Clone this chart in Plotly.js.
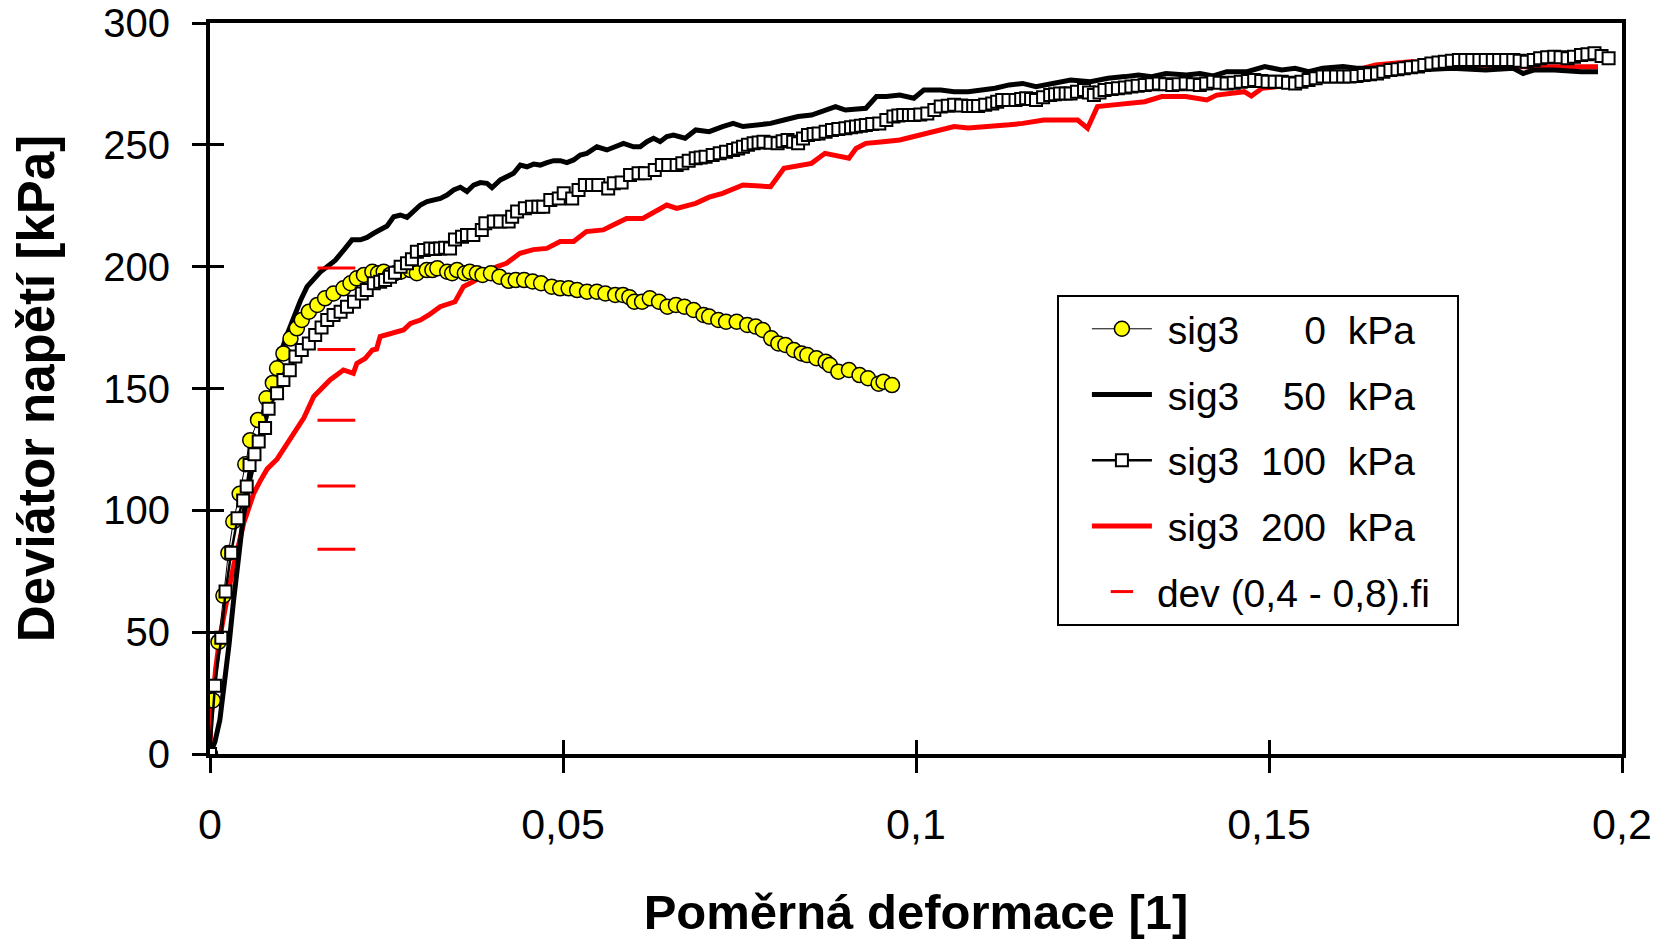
<!DOCTYPE html>
<html>
<head>
<meta charset="utf-8">
<script src="https://cdn.plot.ly/plotly-3.0.1.min.js"></script>
<style>html,body{margin:0;padding:0;background:#fff;}#chart{width:1669px;height:940px;}</style>
</head>
<body>
<div id="chart"></div>
<script>
// ---- data ----
var seriesNames = [
  "\u00a0sig3\u00a0\u00a0\u00a0\u00a0\u00a0\u00a00\u00a0\u00a0kPa",
  "\u00a0sig3\u00a0\u00a0\u00a0\u00a050\u00a0\u00a0kPa",
  "\u00a0sig3\u00a0\u00a0100\u00a0\u00a0kPa",
  "\u00a0sig3\u00a0\u00a0200\u00a0\u00a0kPa",
  "dev (0,4 - 0,8).fi\u00a0\u00a0"
];

var yellowX = [0,0.0004,0.0012,0.0019,0.0026,0.0033,0.0042,0.005,0.0057,0.0068,0.008,0.0089,0.0095,0.0104,0.0114,0.0123,0.013,0.014,0.0152,0.0163,0.0175,0.0189,0.0199,0.0208,0.0218,0.023,0.0238,0.0246,0.0255,0.0262,0.027,0.0284,0.0293,0.0307,0.0315,0.0322,0.0336,0.0343,0.035,0.0361,0.0368,0.0378,0.0386,0.0398,0.041,0.0423,0.0433,0.0445,0.0457,0.0469,0.0484,0.0496,0.0508,0.052,0.0534,0.0548,0.056,0.0574,0.0585,0.0594,0.0601,0.0612,0.0623,0.0636,0.0648,0.066,0.0672,0.0685,0.0699,0.0707,0.072,0.0731,0.0746,0.0761,0.0773,0.0783,0.0795,0.0805,0.0815,0.0827,0.0838,0.0846,0.0859,0.0872,0.0878,0.089,0.0905,0.092,0.0932,0.0947,0.0954,0.0966];
var yellowY = [0,22,46,65,82.5,95.4,106.8,118.9,128.8,137.1,146,152.3,158.3,164.4,170.5,174.7,178.1,181.5,184.3,187,189,191.1,193.2,195.2,196.6,197.9,197.3,197.9,196.6,197.3,197.9,198.6,197.3,198.6,198.6,199.3,197.9,197.3,198.6,197.3,197.9,197.3,196.6,197.3,195.9,194.2,194.5,194.5,193.9,193.2,191.8,191.1,191.1,190.4,189.7,189.7,189,188.4,188.4,187.5,185.6,185.6,187,185.6,183.6,184.3,183.6,182.2,180.2,179.5,178.1,177.4,177.4,176.1,175.4,174,170.6,168.5,167.9,165.8,164.4,163.7,162.4,161,159.6,156.9,157.6,155.5,154.2,152,152.8,151.4];

var blackX = [0,0.0007,0.0014,0.0021,0.0027,0.0033,0.0039,0.0047,0.0055,0.0065,0.0076,0.009,0.01,0.0109,0.0119,0.0128,0.01375,0.0147,0.01564,0.01659,0.01776,0.01894,0.01965,0.02012,0.0213,0.02225,0.02319,0.02413,0.02508,0.02602,0.02696,0.02791,0.02885,0.0298,0.03074,0.03168,0.03263,0.03357,0.03451,0.03546,0.0364,0.03734,0.03829,0.03923,0.03994,0.04112,0.04206,0.043,0.04395,0.04489,0.04584,0.04678,0.04772,0.04867,0.04961,0.05055,0.0515,0.05244,0.05338,0.0548,0.05622,0.05716,0.05857,0.05999,0.06093,0.06188,0.06282,0.06376,0.06471,0.06565,0.0673,0.0688,0.0707,0.0726,0.0741,0.0755,0.0775,0.0794,0.0813,0.0833,0.0852,0.0871,0.0886,0.09,0.0929,0.0944,0.0958,0.0977,0.0997,0.1011,0.1035,0.1054,0.1074,0.1093,0.1112,0.1132,0.1151,0.117,0.119,0.1219,0.1247,0.1272,0.1296,0.1315,0.1334,0.1354,0.1383,0.1402,0.1421,0.144,0.1469,0.1494,0.1518,0.1537,0.1556,0.1576,0.1605,0.1624,0.1662,0.1711,0.1759,0.1807,0.1846,0.186,0.1875,0.1904,0.1942,0.1966];
var blackY = [0,5,14,30,45,62,78,97,111,124,134,152,164.4,172,179.5,186,191.8,195.2,197.9,200,202.7,206.8,208.9,211,211,212,213.7,215.3,216.7,220.5,221.2,220.2,222.6,225.3,226.7,227.4,228,229.4,231.5,232.6,230.8,233.5,234.5,234.2,232.4,235.6,236.9,238.3,241.7,241,242.1,241.7,242.7,243.5,243.5,242.7,243.8,245.8,246.5,249.2,247.9,248.8,250.6,249.2,249.2,251.3,252.7,251.3,253.4,254,252.7,256.1,255.4,257.5,258.8,257.5,258.1,258.8,260.2,261.6,262.2,264.3,265.7,264.3,265,269.8,269.8,270.4,269.1,272.5,272.5,271.8,271.8,272.5,273.2,274.6,275.2,273.9,275.2,276.6,275.9,277.3,278,278.7,278,279.3,278.7,279.3,278.3,280,280,282.1,280.7,281.4,280,281.4,282.1,281.4,281.4,280.7,281.4,280.7,281.4,279.3,280.7,280.7,280,280];

var squareX = [0,0.0007,0.0016,0.0022,0.003,0.0039,0.0047,0.0052,0.0056,0.0063,0.0069,0.0078,0.0083,0.0095,0.0104,0.0113,0.0121,0.013,0.014,0.0149,0.0158,0.0166,0.0175,0.0185,0.0194,0.0204,0.0215,0.0222,0.0232,0.0241,0.0248,0.0255,0.0262,0.027,0.0279,0.0286,0.0293,0.0303,0.0312,0.0319,0.0326,0.0333,0.034,0.0347,0.0357,0.0364,0.0373,0.0385,0.039,0.0402,0.0411,0.0423,0.0428,0.0435,0.0446,0.0456,0.0465,0.0472,0.0482,0.0494,0.0501,0.0513,0.0522,0.0531,0.0541,0.055,0.0564,0.0572,0.0583,0.0595,0.0607,0.0616,0.063,0.064,0.0649,0.0661,0.0669,0.0678,0.0688,0.0695,0.0702,0.0712,0.0722,0.0731,0.0741,0.0748,0.0755,0.0762,0.077,0.0777,0.0784,0.0794,0.0804,0.0811,0.0818,0.0826,0.0833,0.084,0.0847,0.0855,0.0862,0.0872,0.0881,0.089,0.09,0.0908,0.0915,0.0922,0.0929,0.0938,0.0948,0.0958,0.0968,0.0975,0.0982,0.099,0.0997,0.1006,0.1016,0.1026,0.1035,0.1045,0.1054,0.1064,0.1074,0.1081,0.1088,0.1098,0.1108,0.1115,0.1122,0.1131,0.1141,0.1149,0.1156,0.1163,0.117,0.118,0.119,0.1197,0.1204,0.1212,0.1219,0.1228,0.1238,0.1245,0.1252,0.126,0.1267,0.1277,0.1286,0.1296,0.1305,0.1314,0.1324,0.1334,0.1344,0.1353,0.1363,0.1372,0.1382,0.1392,0.1402,0.1411,0.1421,0.143,0.144,0.145,0.146,0.147,0.1479,0.1489,0.1498,0.1508,0.1518,0.1527,0.1537,0.1546,0.1556,0.1566,0.1576,0.1585,0.1595,0.1605,0.1614,0.1624,0.1634,0.1643,0.1653,0.1662,0.1672,0.1682,0.1691,0.1701,0.1711,0.172,0.173,0.174,0.1749,0.1759,0.1769,0.1778,0.1788,0.1798,0.1807,0.1817,0.1826,0.1836,0.1846,0.1855,0.1865,0.1875,0.1884,0.1894,0.1904,0.1913,0.1923,0.1932,0.1942,0.1951,0.1961,0.1971,0.1981];
var squareY = [0,28,47.7,66.7,82.6,96.7,104,109.8,118.6,123,128.3,133.8,141.7,148,153.5,157.5,163.1,165.8,168.5,172,175,178.1,180.2,181.5,183.6,185.6,189,190.4,193.2,193.8,194.5,195.9,197.5,200,201.4,203,206.1,206.8,207.5,207.2,207.5,207.8,207.5,211.2,212.3,213,213,215,217.8,218.5,218.5,218.5,220.5,222.6,224,224.6,224.6,224.6,227.4,228,230.1,228,231.5,233.5,233.5,233.5,232.1,234.2,234.5,237.6,238.3,238.3,239.7,241.7,241.7,241.7,242.4,243.5,244.5,244.8,245.1,245.8,246.5,247.2,247.9,248.5,249.2,250,250.6,251,251.3,250.9,250.6,251.5,252,251.3,250.6,252.6,254,254.4,254.7,255.4,256.1,256.5,256.8,257.2,257.5,257.8,258.1,258.5,258.8,260.2,261.6,262,262.2,262.2,262.2,262.5,262.9,264.3,265.7,266,266.4,266.1,265.9,265.9,265.9,266.5,267,267.7,268.4,268.4,268.4,268.8,269.1,268.8,268.4,269.5,270.5,270.8,271.1,271.1,271.1,271.8,272.5,271.5,270.5,271.5,272.5,272.9,273.2,273.5,273.9,274.2,274.6,274.9,275.2,274.9,274.6,274.9,275.2,274.9,274.6,275.2,275.9,275.5,275.2,275.5,275.9,276.2,276.6,276.2,275.9,275.9,275.9,275.5,275.2,275.9,276.6,277.3,278,278,278,278,278,278.3,278.7,279,279.3,280,280.7,281,281.4,281.8,282.1,282.8,283.4,283.8,284.1,284.5,284.8,284.8,284.8,284.8,284.8,284.8,284.8,284.8,284.8,284.5,284.1,284.8,285.5,285.9,286.2,285.9,285.5,286.2,286.9,287.2,287.6,286.5,285.5];

var redX = [0,0.0001,0.0004,0.0008,0.0014,0.002,0.0027,0.0034,0.0041,0.0048,0.0055,0.0062,0.0071,0.0081,0.0095,0.0104,0.0114,0.0124,0.0133,0.0147,0.0156,0.017,0.0189,0.0203,0.0208,0.022,0.023,0.0236,0.0241,0.026,0.0274,0.0284,0.0298,0.031,0.0326,0.0347,0.0359,0.0373,0.0406,0.042,0.0439,0.0458,0.0477,0.0496,0.0515,0.0533,0.0557,0.0571,0.059,0.0613,0.0632,0.0647,0.0661,0.0688,0.0707,0.0726,0.0755,0.0794,0.0813,0.0838,0.0852,0.0871,0.0886,0.0905,0.0915,0.0929,0.095,0.0977,0.0997,0.1016,0.1035,0.1054,0.1074,0.1112,0.1132,0.1151,0.1181,0.1209,0.1229,0.1243,0.1257,0.128,0.1295,0.1324,0.1348,0.1382,0.1412,0.1426,0.1465,0.1475,0.149,0.1534,0.157,0.16,0.1625,0.1651,0.17,0.1749,0.1797,0.1841,0.19,0.1966];
var redY = [0,14,22,35,48,58,68,78,87,95,101,107,112,117,121,125,130.3,134,138,146.7,149.4,153.5,157.6,156.2,160.3,162.4,165.8,166.2,171.3,172.6,174,176.7,178.1,180.2,183.6,185.6,191.8,193.9,200,201.4,205.5,207,207.5,210.3,210.3,214.4,215.1,217.1,219.8,219.8,222.6,225.3,223.9,226,228.5,230.1,233.5,232.8,240.4,241.8,242.4,246.5,245.8,244.5,248.5,250.6,251.2,252,253.4,254.7,256,257.5,256.9,257.5,258.2,258.8,260.2,260.2,260.2,256.8,265.7,266.4,266.8,267.7,269.8,269.8,268.4,270.4,271.8,270,273.2,274.6,276.5,279,281,282.8,284.1,283.5,282.8,282.1,282,282];

var devX = [0.0179,0.0179,0.0179,0.0179,0.0179];
var devY = [199.5,166,137,110,84];

var xTickVals = [0,0.05,0.1,0.15,0.2];
var xTickText = ["0","0,05","0,1","0,15","0,2"];
var yTickVals = [0,50,100,150,200,250,300];
var yTickText = ["0","50","100","150","200","250","300"];

var xTitle = "Poměrná deformace [1]";
var yTitle = "Deviátor napětí [kPa]";

// ---- traces ----
var FONT = 'Arial, "Liberation Sans", sans-serif';

var traces = [
  {x: redX, y: redY, name: seriesNames[3], type:'scatter', mode:'lines',
   line:{color:'#ff0000', width:5}, legendgroup:'g4', legendrank:4},
  {x: blackX, y: blackY, name: seriesNames[1], type:'scatter', mode:'lines',
   line:{color:'#000000', width:5}, legendgroup:'g2', legendrank:2},
  {x: yellowX, y: yellowY, name: seriesNames[0], type:'scatter', mode:'lines+markers',
   line:{color:'#000000', width:1},
   marker:{symbol:'circle', size:15, color:'#ffff00', line:{color:'#000000', width:1.5}},
   legendgroup:'g1', legendrank:1},
  {x: squareX, y: squareY, name: seriesNames[2], type:'scatter', mode:'lines+markers',
   line:{color:'#000000', width:2.5},
   marker:{symbol:'square', size:12, color:'#ffffff', line:{color:'#000000', width:2}},
   legendgroup:'g3', legendrank:3},
  {x: devX, y: devY, name: seriesNames[4], type:'scatter', mode:'markers',
   marker:{symbol:'line-ew', size:27, color:'#ff0000', line:{color:'#ff0000', width:3}},
   legendgroup:'g5', legendrank:5},
  {x: [], y: [], xaxis:'x2', yaxis:'y2', type:'scatter', mode:'markers', showlegend:false, hoverinfo:'skip'}
];

var axisCommon = {
  showgrid:false, zeroline:false, showline:true, linecolor:'#000', linewidth:4,
  mirror:true, ticks:'outside', tickcolor:'#000', tickwidth:3, fixedrange:true
};

var layout = {
  width:1669, height:940,
  margin:{l:209.5, r:46.5, t:23.3, b:186, pad:0},
  paper_bgcolor:'#ffffff', plot_bgcolor:'#ffffff',
  font:{family:FONT, color:'#000'},
  showlegend:true, hovermode:false,
  xaxis: Object.assign({}, axisCommon, {
    range:[0,0.2], tickmode:'array', tickvals:xTickVals, ticktext:xTickText,
    ticklen:15, tickfont:{size:43, family:FONT}, ticklabelstandoff:14,
    title:{text:xTitle, font:{size:49, family:FONT, weight:700}, standoff:49}
  }),
  yaxis: Object.assign({}, axisCommon, {
    range:[0,300], tickmode:'array', tickvals:yTickVals, ticktext:yTickText,
    ticklen:14, tickfont:{size:40, family:FONT}, ticklabelstandoff:14,
    title:{text:yTitle, font:{size:51, family:FONT, weight:700}, standoff:33}
  }),
  xaxis2: {overlaying:'x', anchor:'y2', side:'bottom', range:[0,0.2], tickmode:'array', tickvals:xTickVals,
    ticks:'inside', ticklen:14, tickwidth:3, tickcolor:'#000', showticklabels:false, showline:false,
    showgrid:false, zeroline:false, fixedrange:true},
  yaxis2: {overlaying:'y', anchor:'x2', side:'left', range:[0,300], tickmode:'array', tickvals:yTickVals,
    ticks:'inside', ticklen:14, tickwidth:3, tickcolor:'#000', showticklabels:false, showline:false,
    showgrid:false, zeroline:false, fixedrange:true},
  legend:{
    x:0.5998, y:0.628, xanchor:'left', yanchor:'top',
    bgcolor:'#ffffff', bordercolor:'#000', borderwidth:2,
    font:{size:39, family:FONT, color:'#000'},
    tracegroupgap:12, traceorder:'grouped', itemwidth:60, indentation:28
  }
};

Plotly.newPlot('chart', traces, layout, {displayModeBar:false, staticPlot:true});
</script>
</body>
</html>
